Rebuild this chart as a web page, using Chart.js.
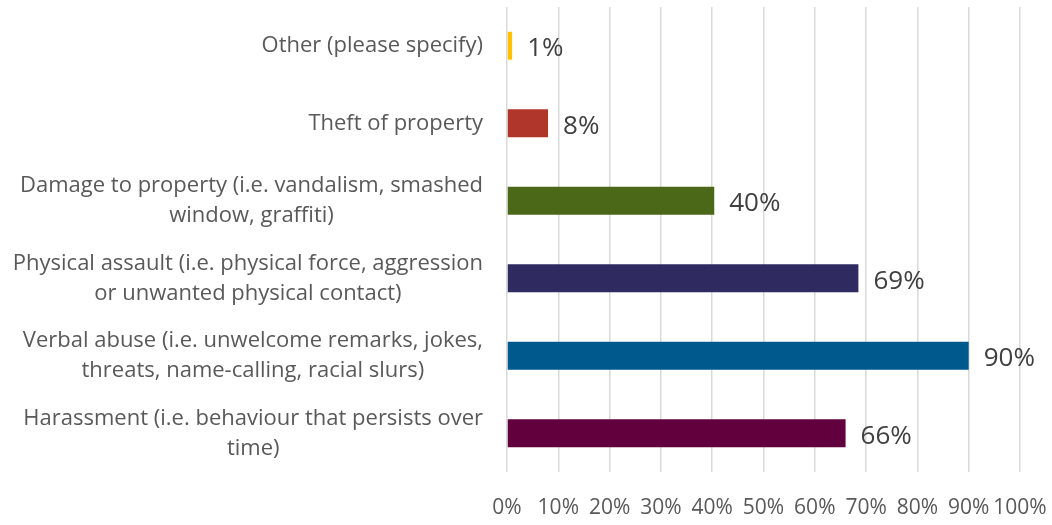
<!DOCTYPE html>
<html>
<head>
<meta charset="utf-8">
<script src="https://cdn.jsdelivr.net/npm/chart.js@4.4.1/dist/chart.umd.min.js"></script>
<style>
  html, body { margin: 0; padding: 0; background: #ffffff; }
  #wrap { width: 1052px; height: 525px; }
</style>
</head>
<body>
<div id="wrap"><canvas id="chart" width="1052" height="525"></canvas></div>
<script>
// categories, top to bottom
const categories = [
    ['Other (please specify)'],
    ['Theft of property'],
    ['Damage to property (i.e. vandalism, smashed', 'window, graffiti)'],
    ['Physical assault (i.e. physical force, aggression', 'or unwanted physical contact)'],
    ['Verbal abuse (i.e. unwelcome remarks, jokes,', 'threats, name-calling, racial slurs)'],
    ['Harassment (i.e. behaviour that persists over', 'time)']
];
const values = [1, 8, 40.4, 68.5, 90, 66];
const barColors = ['#ffc000', '#b0352a', '#4a6818', '#2f2a60', '#00598c', '#62003e'];
const xTicks = [0, 10, 20, 30, 40, 50, 60, 70, 80, 90, 100];

const FONT = '"Open Sans", Lato, sans-serif';

// draws the value labels next to the bars and the centred multi-line category labels
const labelPlugin = {
    id: 'labelPlugin',
    afterDatasetsDraw: function (chart) {
        const ctx = chart.ctx;
        const meta = chart.getDatasetMeta(0);
        const yScale = chart.scales.y;

        ctx.save();
        ctx.fillStyle = '#404040';
        ctx.font = '26px ' + FONT;
        ctx.textAlign = 'left';
        ctx.textBaseline = 'middle';
        meta.data.forEach(function (bar, i) {
            ctx.fillText(Math.round(values[i]) + '%', bar.x + 15, bar.y + 3);
        });

        ctx.fillStyle = '#595959';
        ctx.font = '22px ' + FONT;
        ctx.textAlign = 'center';
        const lineH = 30;
        const right = chart.chartArea.left - 24;
        categories.forEach(function (lines, i) {
            const y = yScale.getPixelForValue(i);
            let w = 0;
            lines.forEach(function (l) { w = Math.max(w, ctx.measureText(l).width); });
            const cx = right - w / 2;
            const y0 = y - (lines.length - 1) * lineH / 2;
            lines.forEach(function (l, k) {
                ctx.fillText(l, cx, y0 + k * lineH);
            });
        });
        ctx.restore();
    }
};

new Chart(document.getElementById('chart'), {
    type: 'bar',
    data: {
        labels: categories.map(function (c) { return c.join(' '); }),
        datasets: [{
            data: values,
            backgroundColor: barColors,
            borderWidth: 0,
            barPercentage: 0.36,
            categoryPercentage: 1.0
        }]
    },
    options: {
        indexAxis: 'y',
        responsive: false,
        devicePixelRatio: 1,
        animation: false,
        layout: { padding: { top: 7, right: 32, left: 0, bottom: 0 } },
        plugins: {
            legend: { display: false },
            tooltip: { enabled: false }
        },
        scales: {
            x: {
                min: 0,
                max: 100,
                afterBuildTicks: function (scale) {
                    scale.ticks = xTicks.map(function (v) { return { value: v }; });
                },
                afterFit: function (scale) { scale.height = 53; },
                grid: {
                    color: '#d9d9d9',
                    lineWidth: 1.5,
                    drawTicks: true,
                    tickLength: 23,
                    tickColor: 'rgba(0,0,0,0)'
                },
                border: { display: false },
                ticks: {
                    padding: 0,
                    color: '#595959',
                    font: { family: FONT, size: 21 },
                    maxRotation: 0,
                    autoSkip: false,
                    callback: function (v) { return v + '%'; }
                }
            },
            y: {
                afterFit: function (scale) { scale.width = 507; },
                grid: { display: false },
                border: { display: false },
                ticks: { display: false }
            }
        }
    },
    plugins: [labelPlugin]
});
</script>
</body>
</html>
